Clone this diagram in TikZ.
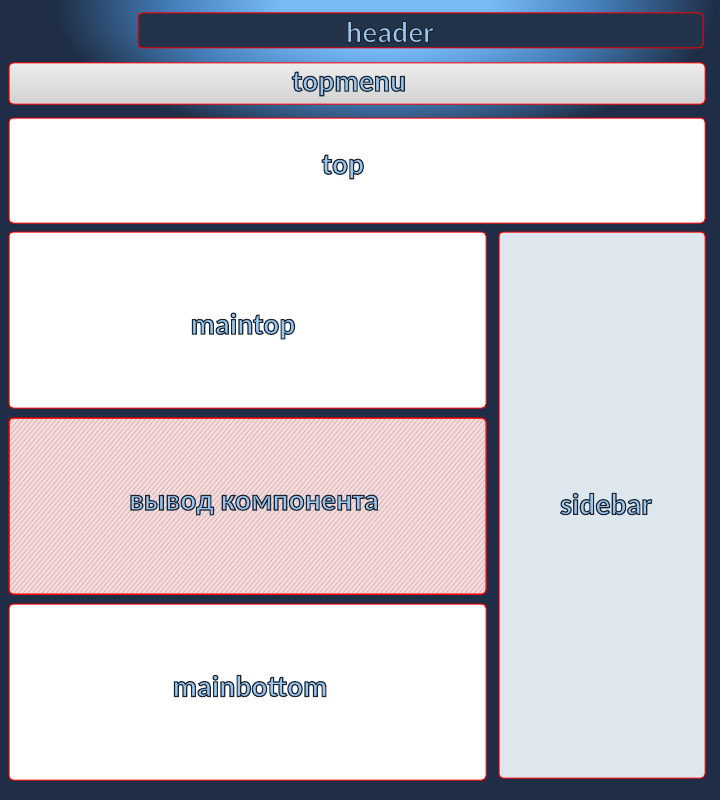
\documentclass[tikz,border=0pt]{standalone}
\usepackage{fontspec}
\setmainfont{Carlito}
\usetikzlibrary{patterns.meta}
\definecolor{bgc}{HTML}{1F2E46}
\definecolor{glow}{HTML}{76BAF6}
\definecolor{glowmid}{HTML}{4580BC}
\definecolor{hdr}{HTML}{233349}
\definecolor{side}{HTML}{DFE7EE}
\definecolor{pinkbg}{HTML}{F4DCDC}
\definecolor{hatch}{HTML}{CFA3A6}
\definecolor{txtin}{HTML}{9CC6EC}
\definecolor{bordr}{HTML}{FF0000}
\pgfdeclareradialshading{glowshade}{\pgfpoint{0bp}{0bp}}{%
  color(0bp)=(glow); color(8bp)=(glow); color(16bp)=(glowmid); color(25bp)=(bgc); color(50bp)=(bgc)}
\newcommand{\outl}[1]{%
  \special{pdf:literal direct q 0.612 0.776 0.925 rg 0.10 0.14 0.20 RG 2 Tr 1.15 w}#1\special{pdf:literal direct Q}}
\tikzset{
  panel/.style={draw=bordr, line width=1pt, rounded corners=4pt},
  lbl/.style={inner sep=0pt, text=txtin, font=\bfseries\fontsize{30}{33}\selectfont}
}
\begin{document}
\begin{tikzpicture}[x=1pt,y=-1pt]
\fill[bgc] (0,0) rectangle (720,800);
\begin{scope}
\clip (0,0) rectangle (720,800);
\shade[shading=glowshade] (385,5) ellipse (330 and 140);
\end{scope}
\useasboundingbox (0,0) rectangle (720,800);
% boxes
\path[panel, fill=hdr] (138,13) rectangle (703,48);
\path[panel, top color=gray!15, bottom color=gray!35] (9,63) rectangle (705,104);
\path[panel, fill=white] (9,118) rectangle (705,223);
\path[panel, fill=white] (9,232) rectangle (486,408);
\path[panel, fill=pinkbg] (9,418) rectangle (486,594);
\fill[pattern={Lines[angle=50,distance=3.6pt,line width=0.5pt]}, pattern color=hatch, rounded corners=4pt] (9.5,418.5) rectangle (485.5,593.5);
\draw[panel, fill=none] (9,418) rectangle (486,594);
\path[panel, fill=white] (9,604) rectangle (486,780);
\path[panel, fill=side] (499,232) rectangle (705,778);
% labels
\node[lbl] (lheader) at (390,32) {\outl{header}};
\node[lbl] (ltopmenu) at (349,84) {\outl{topmenu}};
\node[lbl] (ltop) at (343,167) {\outl{top}};
\node[lbl] (lmaintop) at (243,326) {\outl{maintop}};
\node[lbl] (lout) at (254,505) {\outl{вывод компонента}};
\node[lbl] (lbottom) at (250,686) {\outl{mainbottom}};
\node[lbl] (lside) at (606,504) {\outl{sidebar}};
\end{tikzpicture}
\end{document}
